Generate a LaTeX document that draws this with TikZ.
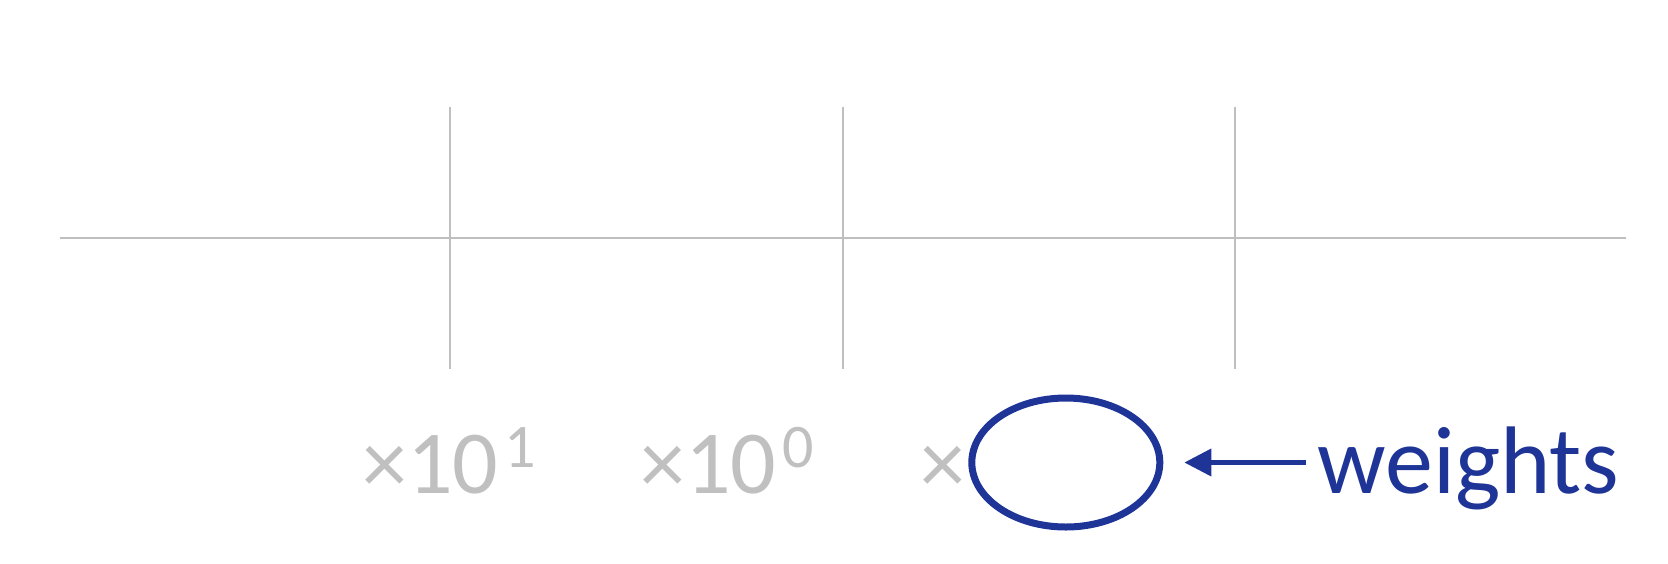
\documentclass[tikz,border=0pt]{standalone}
\usepackage{fontspec}
\setmainfont{Carlito}
\usetikzlibrary{arrows.meta,shapes.geometric}
\definecolor{gridgrey}{HTML}{BFBFBF}
\definecolor{txtgrey}{HTML}{C0C0C0}
\definecolor{wblue}{HTML}{1F3497}
\newcommand{\supnum}[1]{\kern3pt\raisebox{12.7pt}{\fontsize{31}{34}\selectfont #1}}
\begin{document}
\begin{tikzpicture}[x=0.5pt,y=-0.5pt,
  gridline/.style={draw=gridgrey,line width=1pt},
  scalelbl/.style={inner sep=0pt,anchor=base west,text=txtgrey,font=\fontsize{45}{50}\selectfont},
]
\useasboundingbox (0,0) rectangle (1668,563);
\draw[gridline] (59.5,238) -- (1625.5,238);
\draw[gridline] (450,106.5) -- (450,369);
\draw[gridline] (842.5,106.5) -- (842.5,369);
\draw[gridline] (1235,106.5) -- (1235,369);
\node[scalelbl] (t1) at (362,493) {×10\supnum{1}};
\node[scalelbl] (t2) at (640,493) {×10\supnum{0}};
\node[scalelbl] (t3) at (920,493) {×};
\node[draw=wblue,line width=3.5pt,ellipse,minimum width=94pt,minimum height=64.5pt,inner sep=0pt,outer sep=0pt] (e) at (1065.8,462.5) {};
\node[inner sep=0pt,anchor=base west,text=wblue,font=\fontsize{48}{52}\selectfont] (w) at (1317,493) {weights};
\draw[wblue,line width=2.5pt,-{Triangle[length=13.5pt,width=13.3pt]},shorten >=12.25pt,shorten <=5.5pt] (w.west |- e.east) -- (e.east);
\end{tikzpicture}
\end{document}
